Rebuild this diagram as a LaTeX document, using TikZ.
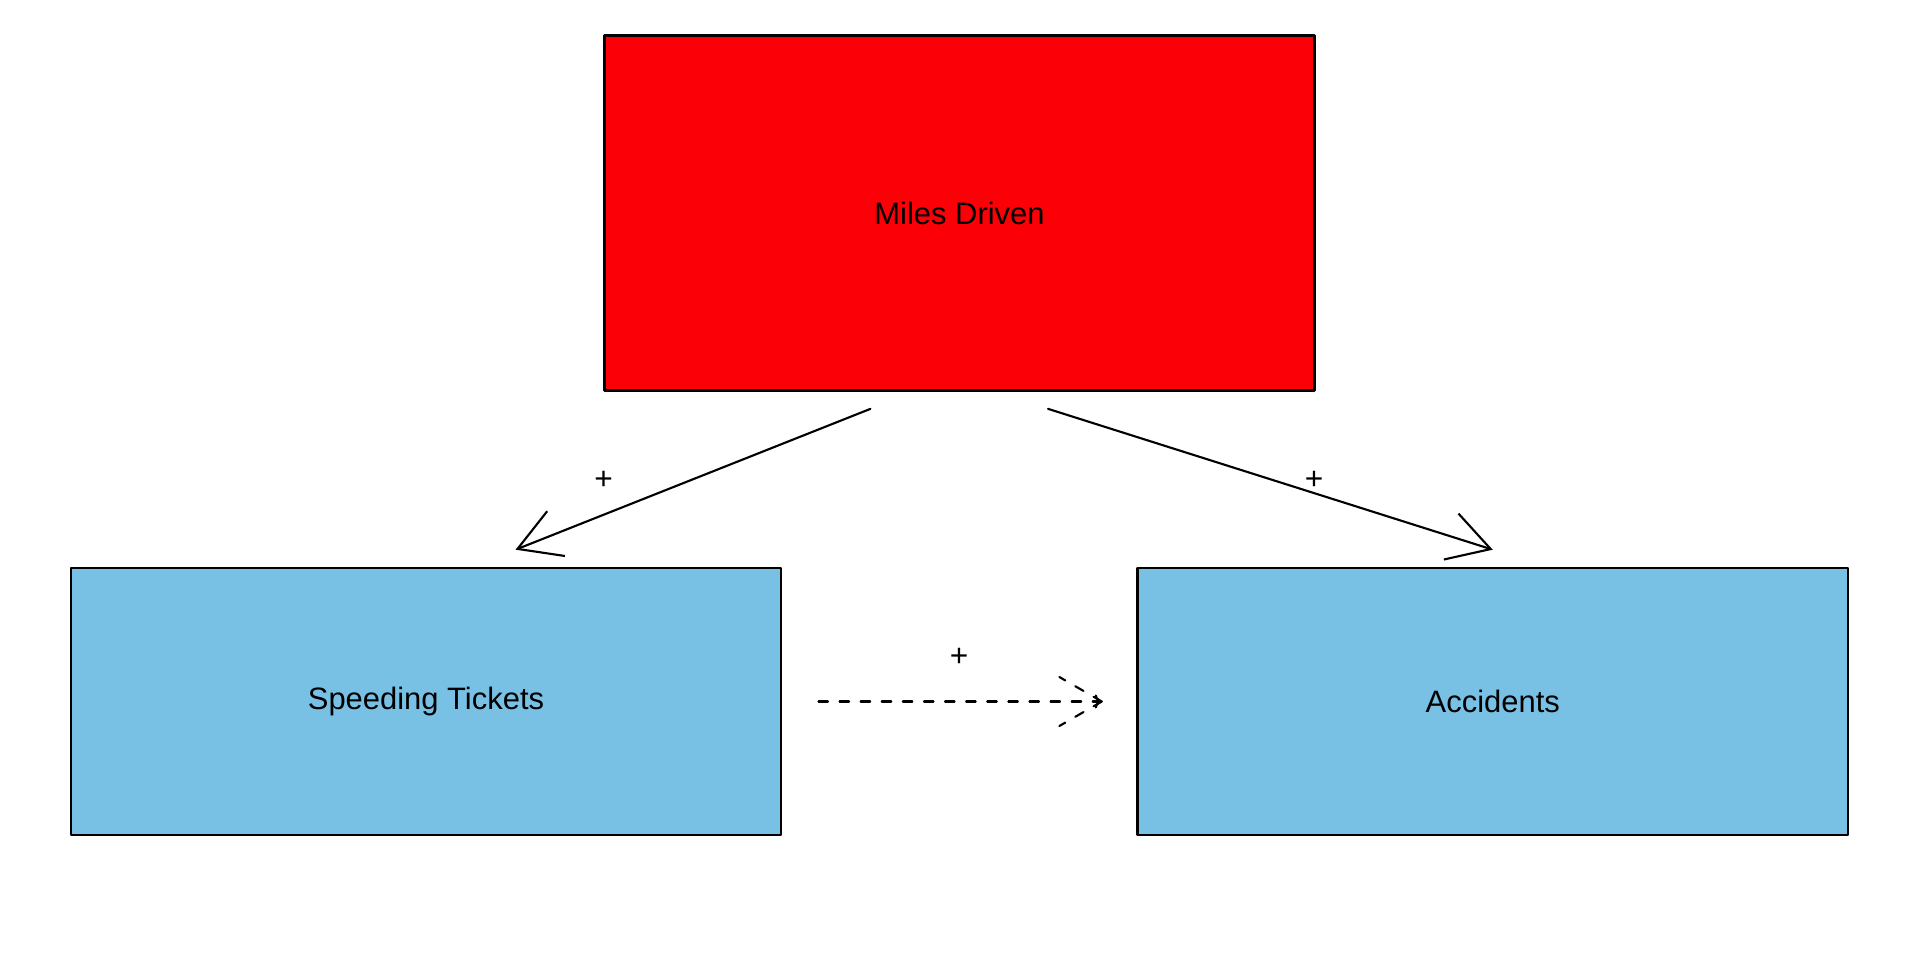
\documentclass[tikz,border=0pt]{standalone}
\usepackage{fontspec}
\setmainfont{Liberation Sans}
\usetikzlibrary{arrows.meta}
\definecolor{milesred}{RGB}{252,0,7}
\definecolor{boxblue}{RGB}{120,193,229}

\begin{document}
\begin{tikzpicture}[x=0.01cm,y=-0.01cm,line cap=round,line join=round,
  >={Straight Barb[length=11.8pt,width=13.7pt]},
  varbox/.style={draw,line width=0.7pt,minimum width=7.1cm,inner sep=0pt,font=\fontsize{8.8}{10}\selectfont},
  sign/.style={font=\fontsize{9}{10}\selectfont},
  link/.style={line width=0.6pt}]
				\useasboundingbox (0,0) rectangle (1920,960);
				
				\node[varbox,fill=milesred,minimum height=3.55cm] (miles) at (959.5,213) {Miles Driven};
				
				\node[varbox,fill=boxblue,minimum height=2.67cm] (tickets) at (426,701.5) {Speeding Tickets};
				
				\node[varbox,fill=boxblue,minimum height=2.67cm] (accidents) at (1492.75,701.5) {Accidents};
				
				\draw[link,->] ([xshift=-0.89cm,yshift=-0.17cm]miles.south) -- ([xshift=0.895cm,yshift=0.17cm]tickets.north);
				\node[sign] (plusleft) at (603.6,480) {+};
				
				\draw[link,->] ([xshift=0.885cm,yshift=-0.17cm]miles.south) -- ([yshift=0.17cm]accidents.north);
				\node[sign] (plusright) at (1314,480) {+};
				
				\coordinate (dashtip) at ([xshift=-0.345cm]accidents.west);
				\draw[link,dash pattern=on 2.7pt off 3.3pt,-{To[length=2pt,width=4pt]}] ([xshift=0.36cm]tickets.east) -- (dashtip);
				\draw[link,dash pattern=on 2.7pt off 3.3pt] (dashtip) -- ++(150:49);
				\draw[link,dash pattern=on 2.7pt off 3.3pt] (dashtip) -- ++(-150:49);
				\node[sign] (plusmid) at (959,657.5) {+};
			\end{tikzpicture}
\end{document}
